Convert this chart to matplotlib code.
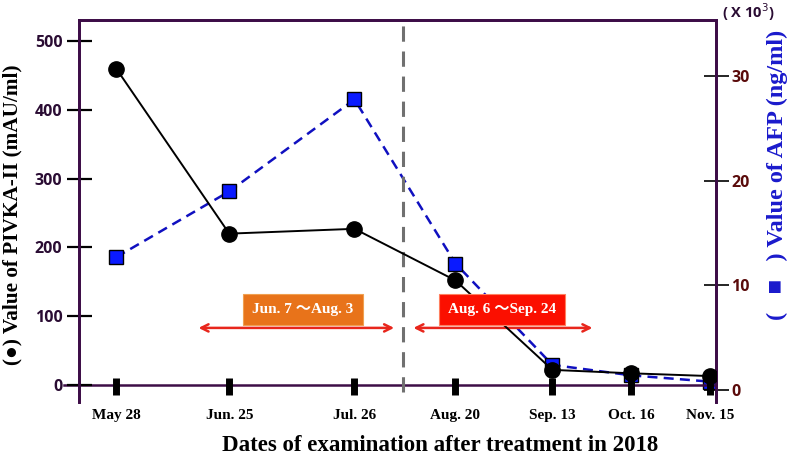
import numpy as np
import matplotlib.pyplot as plt
from matplotlib.patches import FancyArrowPatch

# Data
dates = ['May 28', 'Jun. 25', 'Jul. 26', 'Aug. 20', 'Sep. 13', 'Oct. 16', 'Nov. 15']
x_pos = [0, 28, 59, 84, 108, 127.5, 147]        # horizontal placement of each date
pivka = [460, 220, 227, 152, 22, 17, 13]          # mAU/ml
afp = [12.7, 19.0, 27.8, 12.1, 2.4, 1.4, 0.8]     # x10^3 ng/ml
left_ticks = [0, 100, 200, 300, 400, 500]
right_ticks = [0, 10, 20, 30]

spine_col = '#3d0d47'
serif = 'Liberation Serif'
sans = 'Open Sans'

fig = plt.figure(figsize=(7.92, 4.62), dpi=100)
ax = fig.add_axes([79/792, 1 - 402/462, (716-79)/792, (402-20)/462])
ax2 = ax.twinx()

ax.set_xlim(-9.2, 148.5)
ax.set_ylim(-24.7, 530.5)
ax2.set_ylim(-1.15, 35.4)

# zero line acting as x axis
ax.plot([-12.8, 148.5], [0, 0], color=spine_col, lw=1.8, clip_on=False, zorder=1)

# treatment boundary
ax.plot([71, 71], [-10, 530.5], color='#707070', lw=2.2, ls=(0, (5, 3.2)), zorder=1)

# series
ax2.plot(x_pos, afp, color='#1010c0', lw=1.8, ls=(0, (4, 2.5)), marker='s', ms=10.5,
         mfc='#0a1aff', mec='black', mew=1.0, zorder=3)
ax.plot(x_pos, pivka, color='black', lw=1.4, marker='o', ms=11, mfc='black', mec='black', zorder=4)
ax.set_zorder(ax2.get_zorder() + 1)
ax.patch.set_visible(False)

# treatment periods
for x0, x1 in [(19.7, 69.5), (72.9, 118.6)]:
    ax.add_patch(FancyArrowPatch((x0, 83), (x1, 83), arrowstyle='<->', mutation_scale=13,
                                 color='#e8261c', lw=1.8, zorder=2))
box_fam = [serif, 'Noto Sans CJK JP']
ax.text(46.2, 110, 'Jun. 7 \uff5eAug. 3', ha='center', va='center', fontsize=11, color='white',
        family=box_fam, fontweight='bold',
        bbox=dict(boxstyle='square,pad=0.6', fc='#e8731a', ec='#f0a050', lw=0.8), zorder=5)
ax.text(95.5, 110, 'Aug. 6 \uff5eSep. 24', ha='center', va='center', fontsize=11, color='white',
        family=box_fam, fontweight='bold',
        bbox=dict(boxstyle='square,pad=0.6', fc='#fb0f00', ec='#ff8060', lw=0.8), zorder=5)

# x ticks drawn as thick bars on the zero line
ax.set_xticks(x_pos)
ax.set_xticklabels(dates, family=serif, fontweight='bold', fontsize=11)
ax.tick_params(axis='x', length=0, pad=5)
for xp in x_pos:
    ax.plot([xp, xp], [-15, 10], color='black', lw=5, solid_capstyle='butt', zorder=2)

ax.set_yticks(left_ticks)
ax.set_yticklabels([str(t) for t in left_ticks], family=sans, fontweight='bold', fontsize=11.5,
                   color='#2a0c33')
ax.tick_params(axis='y', direction='inout', length=18, width=1.6, color='black', pad=3)

ax2.set_yticks(right_ticks)
ax2.set_yticklabels([str(t) for t in right_ticks], family=sans, fontweight='bold', fontsize=11.5,
                    color='#5a0a0a')
ax2.tick_params(axis='y', direction='inout', length=18, width=1.2, color='black', pad=2)

for a in (ax, ax2):
    a.spines['bottom'].set_visible(False)
    for s in ('left', 'right', 'top'):
        a.spines[s].set_color(spine_col)
        a.spines[s].set_linewidth(2.0)

ax.set_ylabel('(\u25cf) Value of PIVKA-II (mAU/ml)', family=serif, fontweight='bold', fontsize=15.3,
              color='black')
ax.yaxis.set_label_coords(-0.0895, 0.49)
ax2.set_ylabel('(   \u25a0   ) Value of AFP (ng/ml)', family=[serif, 'DejaVu Sans'], fontweight='bold',
               fontsize=17.5, color='#1a1acc', rotation=90)
ax2.yaxis.set_label_coords(1.08, 0.595)
ax.set_xlabel('Dates of examination after treatment in 2018', family=serif, fontweight='bold',
              fontsize=16.5)
ax.xaxis.set_label_coords(0.567, -0.086)

fig.text(748/792, 1 - 12/462, '( X 10$^3$)', ha='center', va='center', family=sans,
         fontweight='bold', fontsize=10.5, color='#2a0c33')

fig.savefig('out.png', dpi=100)
